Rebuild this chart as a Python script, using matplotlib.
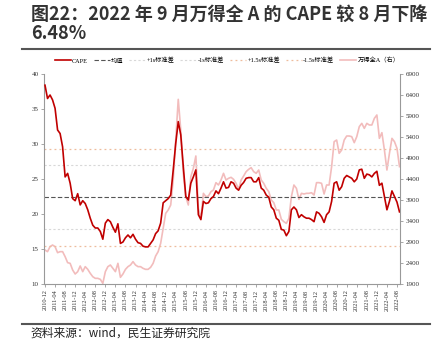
import matplotlib
matplotlib.use("Agg")
import matplotlib.pyplot as plt
import numpy as np

# monthly data, 2010-12 .. 2022-09
cape = [
    38.4, 36.5, 37.0, 36.3, 35.1, 32.0, 31.5, 29.6, 25.3, 25.8,
    24.4, 22.2, 21.9, 22.9, 21.3, 21.9, 21.5, 20.6, 19.4, 18.4,
    18.0, 18.0, 17.5, 16.4, 18.7, 19.2, 18.9, 18.1, 17.4, 18.6,
    15.8, 16.0, 16.6, 17.0, 16.6, 17.1, 16.4, 15.9, 15.8, 15.4,
    15.3, 15.3, 15.8, 16.3, 17.2, 17.6, 18.7, 21.6, 21.9, 22.2,
    22.7, 26.3, 30.1, 33.2, 31.3, 26.8, 22.5, 22.0, 24.4, 25.3,
    26.3, 19.9, 19.2, 21.8, 21.5, 21.6, 22.2, 22.5, 23.3, 22.9,
    23.7, 24.6, 23.7, 23.8, 24.6, 24.4, 23.7, 23.4, 24.1, 24.5,
    25.1, 25.2, 25.2, 24.6, 24.6, 25.2, 23.7, 23.4, 22.7, 22.4,
    21.0, 20.6, 19.4, 19.1, 17.8, 17.7, 16.9, 17.5, 20.6, 21.0,
    20.6, 19.5, 19.9, 19.6, 19.4, 19.4, 19.2, 18.9, 20.3, 20.1,
    19.6, 18.8, 19.9, 20.3, 21.8, 24.4, 24.6, 23.4, 23.9, 25.1,
    25.5, 25.3, 25.1, 24.6, 25.0, 26.3, 26.4, 25.1, 25.7, 25.6,
    25.3, 25.8, 26.1, 24.1, 24.4, 22.5, 20.6, 21.8, 23.3, 22.5,
    21.7, 20.3,
]
wind_a = [
    2709, 2670, 2789, 2828, 2789, 2646, 2670, 2670, 2551, 2408,
    2392, 2233, 2138, 2194, 2329, 2194, 2313, 2249, 2154, 2074,
    2035, 2035, 2011, 1916, 2194, 2313, 2352, 2273, 2194, 2392,
    2059, 2138, 2249, 2313, 2352, 2432, 2352, 2313, 2313, 2273,
    2249, 2249, 2297, 2392, 2567, 2670, 2868, 3225, 3582, 3662,
    3781, 4376, 5328, 6297, 5567, 4535, 3979, 3781, 4455, 4654,
    4948, 3701, 3463, 4059, 3979, 3995, 4098, 4138, 4313, 4257,
    4376, 4535, 4376, 4416, 4440, 4392, 4297, 4154, 4376, 4471,
    4575, 4630, 4670, 4575, 4535, 4614, 4376, 4297, 4178, 4098,
    3900, 3836, 3662, 3662, 3440, 3384, 3344, 3463, 3979, 4257,
    4178, 3916, 4059, 4043, 4059, 4059, 4074, 4019, 4313, 4313,
    4297, 4043, 4257, 4257, 4694, 5289, 5328, 5011, 5090, 5328,
    5424, 5424, 5408, 5265, 5408, 5646, 5725, 5606, 5725, 5686,
    5686, 5844, 5924, 5368, 5503, 5090, 4614, 5011, 5368, 5289,
    5130, 4694,
]

months = []
y, m = 2010, 12
for _ in range(len(cape)):
    months.append(f"{y}-{m:02d}")
    m += 1
    if m > 12:
        y, m = y + 1, 1

mean_val = 22.4
std_val = 4.6

cjk = ["Noto Sans CJK SC", "DejaVu Sans"]
serif = ["Liberation Serif", "Noto Sans CJK SC"]

fig = plt.figure(figsize=(4.41, 3.5), dpi=100)
ax = fig.add_axes([44 / 441, 1 - 284 / 350, 356 / 441, 210 / 350])
ax2 = ax.twinx()

x = np.arange(len(cape))
ax.plot(x, cape, color="#c00000", lw=1.2, label="CAPE", zorder=5)
ax.axhline(mean_val, color="#555555", lw=0.8, ls=(0, (4, 2)), label="均值")
ax.axhline(mean_val + std_val, color="#d8d8d8", lw=0.8, ls=(0, (2, 2)), label="+1s标准差")
ax.axhline(mean_val - std_val, color="#d8d8d8", lw=0.8, ls=(0, (2, 2)), label="-1s标准差")
ax.axhline(mean_val + 1.5 * std_val, color="#eebc9c", lw=0.9, ls=(0, (1.5, 2.5)), label="+1.5s标准差")
ax.axhline(mean_val - 1.5 * std_val, color="#eebc9c", lw=0.9, ls=(0, (1.5, 2.5)), label="-1.5s标准差")
ax2.plot(x, wind_a, color="#f2bcbc", lw=1.2, label="万得全A（右）", zorder=2)
ax.set_zorder(ax2.get_zorder() + 1)
ax.patch.set_visible(False)

ax.set_xlim(-0.4, 141.2)
ax.set_ylim(10, 40)
ax2.set_ylim(1900, 6900)
ax.set_yticks(range(10, 41, 5))
ax2.set_yticks(range(1900, 6901, 500))
tick_pos = x[::4]
ax.set_xticks(tick_pos)
ax.set_xticklabels([months[i] for i in tick_pos], rotation=90, family=serif, fontsize=4.6)
for lab in ax.get_yticklabels():
    lab.set_family(serif)
    lab.set_fontsize(5)
for lab in ax2.get_yticklabels():
    lab.set_family(serif)
    lab.set_fontsize(5)

for a in (ax, ax2):
    a.spines["top"].set_visible(False)
    for s in ("left", "right", "bottom"):
        a.spines[s].set_color("#999999")
        a.spines[s].set_linewidth(0.8)
    a.tick_params(length=2, width=0.6, color="#999999", pad=2, labelcolor="#333333")
ax.spines["right"].set_visible(False)
ax2.spines["left"].set_visible(False)
ax2.spines["bottom"].set_visible(False)

h1, l1 = ax.get_legend_handles_labels()
h2, l2 = ax2.get_legend_handles_labels()
leg = ax.legend(h1 + h2, l1 + l2, loc="center", bbox_to_anchor=(0.514, 1.065),
                ncol=7, frameon=False, prop={"family": serif, "size": 4.5},
                handlelength=2.6, columnspacing=0.9, handletextpad=0.2,
                borderpad=0.1)

fig.text(0.07, 1 - 5 / 350, "图22：2022 年 9 月万得全 A 的 CAPE 较 8 月下降\n6.48%",
         family=cjk, fontsize=13, fontweight="bold", color="#333333",
         va="top", ha="left", linespacing=1.0)
fig.add_artist(plt.Line2D([22 / 441, 430 / 441], [1 - 49 / 350] * 2, color="#555555", lw=1.5))
fig.add_artist(plt.Line2D([22 / 441, 430 / 441], [1 - 324 / 350] * 2, color="#555555", lw=1.5))
fig.text(30 / 441, 1 - 333 / 350, "资料来源：wind，民生证券研究院", family=cjk,
         fontsize=8.5, color="#222222", va="center", ha="left")

fig.savefig("out.png", dpi=100)
